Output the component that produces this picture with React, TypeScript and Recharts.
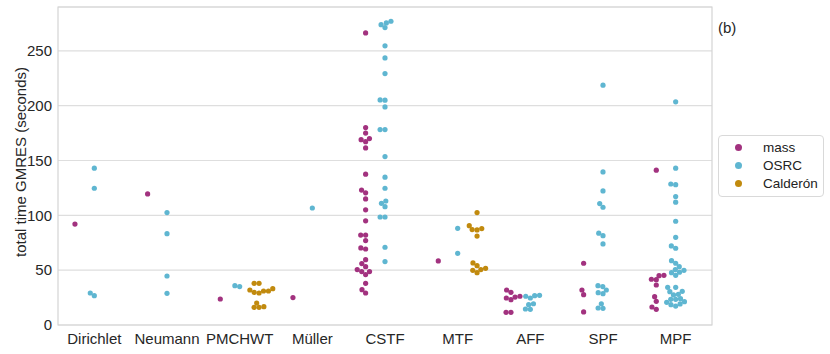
import React from "react";
import {
  ScatterChart,
  Scatter,
  XAxis,
  YAxis,
  CartesianGrid,
  ReferenceArea,
  Legend,
  Label,
} from "recharts";

const CATEGORIES = ["Dirichlet", "Neumann", "PMCHWT", "Müller", "CSTF", "MTF", "AFF", "SPF", "MPF"];
const Y_TICKS = [0, 50, 100, 150, 200, 250];

// total time per run, one list per category (same order as CATEGORIES)
const MASS: number[][] = [
  [92],
  [119.5],
  [23.7],
  [25],
  [266.4, 180, 175, 170, 167.2, 169, 161.5, 137.5, 123, 120.5, 115, 105, 95, 82, 82, 77, 70.3, 69.3, 59.6, 56, 53.2, 48.7, 46, 48.7, 50.5, 38, 32.2, 29.2],
  [58.4],
  [31.9, 29.8, 24.6, 23.1, 25.5, 26.2, 11.6, 11.6],
  [56.3, 31.9, 27.7, 11.9],
  [141.2, 41.7, 41.3, 45, 45.3, 36.5, 25.8, 21.6, 16.4, 14.3],
];

const OSRC: number[][] = [
  [143, 124.7, 29.2, 26.7],
  [102.5, 83.3, 44.7, 28.9],
  [35.9, 35.0],
  [106.7],
  [273.9, 271.2, 275.5, 277, 254.6, 243.6, 229.3, 205.3, 205, 198.9, 178.2, 178.2, 153.6, 134.8, 124.7, 111, 113.1, 107.9, 98.5, 98.5, 70.9, 57.8],
  [88.2, 65.4],
  [26.2, 24.6, 26.7, 27.1, 18.5, 19.4, 14.6, 14.3],
  [218.7, 139.6, 122.3, 110.7, 107.4, 83.7, 81.5, 73.9, 35.9, 35, 31.9, 29.5, 28.6, 19.4, 15.5, 15.2],
  [203.5, 143, 128.6, 128, 117.2, 112, 94.6, 80, 72.1, 70, 58.7, 56.3, 53.2, 50.5, 47.7, 45.3, 48.1, 49.9, 34.4, 34.4, 30.4, 27.4, 28, 30.7, 23.4, 21.3, 23.4, 24, 20.7, 18.5, 17.3, 19.2],
];

const CALDERON: number[][] = [
  [],
  [],
  [38, 38, 31.9, 29.8, 29.2, 31, 33.1, 31, 20, 16.1, 16.1, 16.7],
  [],
  [],
  [102.5, 90.6, 87, 86.7, 87.9, 81.1, 56.6, 54.1, 49.9, 47.7, 50.5, 51.7],
  [],
  [],
  [],
];

const SERIES = [
  { name: "mass", values: MASS, color: "#a2327f", dodge: -0.2667 },
  { name: "OSRC", values: OSRC, color: "#5fb6d1", dodge: 0 },
  { name: "Calderón", values: CALDERON, color: "#c18a0e", dodge: 0.2667 },
];

const W = 830;
const H = 354;
const MARGIN = { top: 7, right: 6, bottom: 0, left: 8 };
const Y_AXIS_W = 50;
const X_AXIS_H = 29;
const LEGEND_W = 112;
const Y_MAX = 290;

const PLOT_W = W - MARGIN.left - Y_AXIS_W - MARGIN.right - LEGEND_W;
const PLOT_H = H - MARGIN.top - MARGIN.bottom - X_AXIS_H;
const PX_PER_X = PLOT_W / 9;
const PX_PER_Y = PLOT_H / Y_MAX;
const DOT_D = 4.9;

// simple beeswarm: place points from low to high, closest free spot to the centre
function swarm(values: number[], center: number) {
  const sorted = [...values].sort((a, b) => a - b);
  const placed: { x: number; y: number; v: number }[] = [];
  for (const v of sorted) {
    const py = v * PX_PER_Y;
    const cands = [0];
    for (const q of placed) {
      const dy = py - q.y;
      if (Math.abs(dy) < DOT_D) {
        const dx = Math.sqrt(DOT_D * DOT_D - dy * dy);
        cands.push(q.x - dx, q.x + dx);
      }
    }
    cands.sort((a, b) => Math.abs(a) - Math.abs(b) || a - b);
    let chosen = 0;
    for (const c of cands) {
      const ok = placed.every(
        (q) => (c - q.x) ** 2 + (py - q.y) ** 2 >= DOT_D * DOT_D - 1e-6
      );
      if (ok) {
        chosen = c;
        break;
      }
    }
    placed.push({ x: chosen, y: py, v });
  }
  return placed.map((q) => ({ x: center + q.x / PX_PER_X, y: q.v }));
}

const seriesData = SERIES.map((s) => ({
  ...s,
  data: s.values.flatMap((vals, i) => swarm(vals, i + s.dodge)),
}));

const FONT = "'Liberation Sans', Arial, Helvetica, sans-serif";

const renderLegend = () => (
  <div style={{ paddingLeft: 6, width: LEGEND_W, boxSizing: "border-box" }}>
    <div
      style={{
        width: 106,
        height: 62,
        border: "1px solid #d9d9d9",
        borderRadius: 4,
        background: "#fff",
        boxSizing: "border-box",
        paddingTop: 2,
        fontFamily: FONT,
        fontSize: 13.5,
        color: "#222",
      }}
    >
      {SERIES.map((s) => (
        <div key={s.name} style={{ display: "flex", alignItems: "center", height: 18 }}>
          <span
            style={{
              display: "inline-block",
              width: 7,
              height: 7,
              borderRadius: "50%",
              background: s.color,
              marginLeft: 16,
              marginRight: 21,
            }}
          />
          <span>{s.name}</span>
        </div>
      ))}
    </div>
  </div>
);

export default function App() {
  return (
    <div style={{ position: "absolute", left: 0, top: 0, width: W, height: H, background: "#fff" }}>
      <ScatterChart width={W} height={H} margin={MARGIN}>
        <CartesianGrid vertical={false} stroke="#dedede" strokeWidth={1.2} />
        <ReferenceArea
          x1={-0.5}
          x2={8.5}
          y1={0}
          y2={Y_MAX}
          fill="none"
          stroke="#d4d4d4"
          strokeWidth={1.2}
        />
        <XAxis
          dataKey="x"
          type="number"
          domain={[-0.5, 8.5]}
          ticks={CATEGORIES.map((_, i) => i)}
          tickFormatter={(i: number) => CATEGORIES[i] ?? ""}
          interval={0}
          axisLine={false}
          tickLine={false}
          tickSize={0}
          tickMargin={8}
          height={X_AXIS_H}
          allowDataOverflow
          tick={{ fontSize: 15, fill: "#262626", fontFamily: FONT }}
        />
        <YAxis
          dataKey="y"
          type="number"
          domain={[0, Y_MAX]}
          ticks={Y_TICKS}
          interval={0}
          axisLine={false}
          tickLine={false}
          tickSize={0}
          tickMargin={6}
          width={Y_AXIS_W}
          allowDataOverflow
          tick={{ fontSize: 15, fill: "#262626", fontFamily: FONT }}
        >
          <Label
            content={() => (
              <text
                x={20}
                y={162}
                transform="rotate(-90 20 162)"
                textAnchor="middle"
                dominantBaseline="central"
                fontSize={15}
                fill="#262626"
                fontFamily={FONT}
              >
                total time GMRES (seconds)
              </text>
            )}
          />
        </YAxis>
        <Legend
          layout="vertical"
          align="right"
          verticalAlign="middle"
          wrapperStyle={{ top: 135 }}
          content={renderLegend}
        />
        {seriesData.map((s) => (
          <Scatter
            key={s.name}
            name={s.name}
            data={s.data}
            fill={s.color}
            isAnimationActive={false}
            shape={(p: any) => <circle cx={p.cx} cy={p.cy} r={2.6} fill={s.color} />}
          />
        ))}
      </ScatterChart>
      <div
        style={{
          position: "absolute",
          left: 718,
          top: 19,
          fontFamily: FONT,
          fontSize: 15,
          color: "#262626",
        }}
      >
        (b)
      </div>
    </div>
  );
}
